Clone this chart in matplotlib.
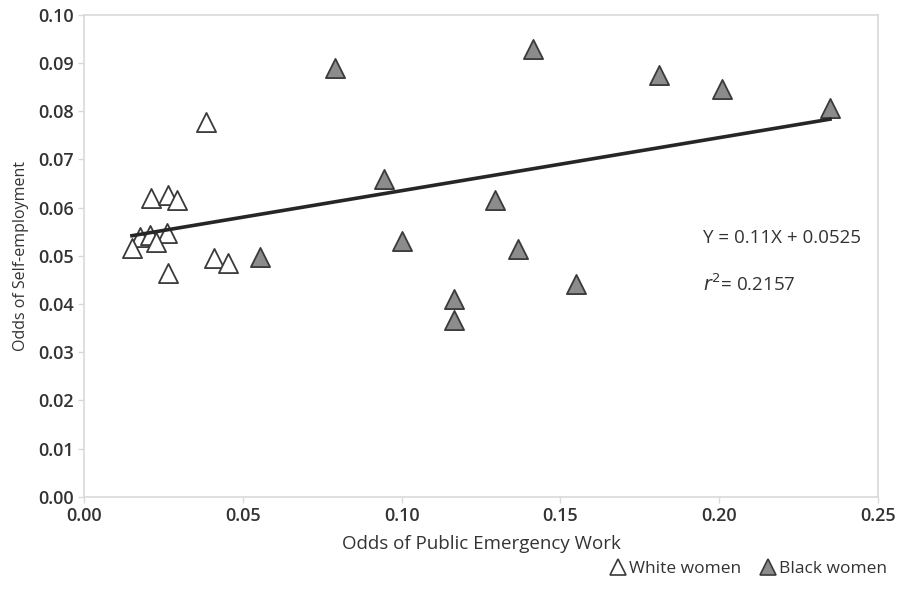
import matplotlib.pyplot as plt
from matplotlib.lines import Line2D
import numpy as np

plt.rcParams['font.family'] = ['Open Sans', 'DejaVu Sans']

# odds of public emergency work (x) vs odds of self-employment (y)
white_x = [0.0384, 0.0211, 0.0264, 0.0293, 0.0176, 0.0208, 0.0261, 0.0227, 0.0151, 0.0409, 0.0453, 0.0264]
white_y = [0.0778, 0.0620, 0.0627, 0.0616, 0.0539, 0.0544, 0.0548, 0.0529, 0.0517, 0.0496, 0.0485, 0.0465]
black_x = [0.0554, 0.0790, 0.0945, 0.1001, 0.1165, 0.1165, 0.1294, 0.1367, 0.1414, 0.1549, 0.1810, 0.2009, 0.2349]
black_y = [0.0498, 0.0890, 0.0660, 0.0531, 0.0411, 0.0367, 0.0616, 0.0515, 0.0929, 0.0442, 0.0876, 0.0846, 0.0807]

slope = 0.11
intercept = 0.0525
r2 = 0.2157

xticks = [0.00, 0.05, 0.10, 0.15, 0.20, 0.25]
yticks = [0.00, 0.01, 0.02, 0.03, 0.04, 0.05, 0.06, 0.07, 0.08, 0.09, 0.10]

text_col = '#333333'
frame_col = '#d9d9d9'

fig = plt.figure(figsize=(9.07, 5.90), dpi=100)
ax = fig.add_axes([0.0926, 0.158, 0.8754, 0.817])

ax.scatter(white_x, white_y, marker='^', s=190, facecolor='white',
           edgecolor='#3a3a3a', linewidth=1.3, zorder=3)
ax.scatter(black_x, black_y, marker='^', s=190, facecolor='#8c8c8c',
           edgecolor='#3a3a3a', linewidth=1.3, zorder=3)

# regression line over data range, drawn on top of the markers
all_x = np.array(white_x + black_x)
lx = np.array([all_x.min(), all_x.max()])
ax.plot(lx, slope * lx + intercept, color='#262626', lw=2.6, zorder=4)

ax.set_xlim(0, 0.25)
ax.set_ylim(0, 0.10)
ax.set_xticks(xticks)
ax.set_yticks(yticks)
ax.set_xticklabels(['%.2f' % v for v in xticks])
ax.set_yticklabels(['%.2f' % v for v in yticks])
ax.tick_params(colors=frame_col, labelcolor=text_col, labelsize=13, length=4, width=1)
for lab in ax.get_xticklabels() + ax.get_yticklabels():
    lab.set_fontweight('semibold')
for sp in ax.spines.values():
    sp.set_color(frame_col)
    sp.set_linewidth(1.2)

ax.set_xlabel('Odds of Public Emergency Work', fontsize=13.5, color=text_col, labelpad=7)
ax.set_ylabel('Odds of Self-employment', fontsize=11.5, color=text_col, labelpad=6)

ax.text(0.195, 0.0537, 'Y = 0.11X + 0.0525', fontsize=13.5, color=text_col, va='center')
ax.text(0.195, 0.0440, r'$r^2$= %.4f' % r2, fontsize=13.5, color=text_col, va='center')

handles = [
    Line2D([], [], marker='^', ls='none', markersize=12, markerfacecolor='white',
           markeredgecolor='#3a3a3a', markeredgewidth=1.2, label='White women'),
    Line2D([], [], marker='^', ls='none', markersize=12, markerfacecolor='#8c8c8c',
           markeredgecolor='#3a3a3a', markeredgewidth=1.2, label='Black women'),
]
leg = fig.legend(handles=handles, loc='lower right', bbox_to_anchor=(0.995, -0.005), ncol=2,
                 frameon=False, fontsize=12.5, handletextpad=0.0, columnspacing=1.0,
                 handlelength=1.2)
for t in leg.get_texts():
    t.set_color(text_col)

fig.savefig('out.png', dpi=100)
